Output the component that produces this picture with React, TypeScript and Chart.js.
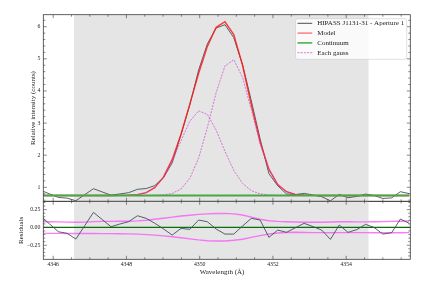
import React, { useEffect, useRef } from 'react';
import { Chart, registerables } from 'chart.js';

Chart.register(...registerables);

// ---------------- data ----------------
const WAVELENGTH = [
  4345.66, 4345.90, 4346.14, 4346.38, 4346.62, 4346.86, 4347.10, 4347.34, 4347.58, 4347.82,
  4348.06, 4348.30, 4348.54, 4348.77, 4349.01, 4349.25, 4349.49, 4349.73, 4349.97, 4350.21,
  4350.45, 4350.69, 4350.93, 4351.17, 4351.41, 4351.65, 4351.89, 4352.13, 4352.37, 4352.61,
  4352.85, 4353.09, 4353.33, 4353.57, 4353.81, 4354.05, 4354.29, 4354.53, 4354.76, 4355.00,
  4355.24, 4355.48, 4355.72,
];
const FLUX = [
  0.905, 0.795, 0.685, 0.662, 0.582, 0.770, 0.957, 0.855, 0.755, 0.793,
  0.832, 0.937, 0.962, 1.051, 1.295, 1.762, 2.641, 3.564, 4.649, 5.467,
  5.960, 6.062, 5.660, 4.819, 3.690, 2.507, 1.426, 1.047, 0.793, 0.774,
  0.811, 0.760, 0.708, 0.578, 0.779, 0.676, 0.715, 0.789, 0.745, 0.652,
  0.671, 0.863, 0.803,
];
const MODEL = [
  0.745, 0.745, 0.745, 0.745, 0.745, 0.745, 0.745, 0.745, 0.745, 0.747,
  0.752, 0.773, 0.834, 0.991, 1.315, 1.869, 2.654, 3.591, 4.545, 5.387,
  5.982, 6.155, 5.753, 4.799, 3.562, 2.403, 1.565, 1.084, 0.862, 0.779,
  0.753, 0.747, 0.745, 0.745, 0.745, 0.745, 0.745, 0.745, 0.745, 0.745,
  0.745, 0.745, 0.745,
];
const CONTINUUM = [
  0.745, 0.745, 0.745, 0.745, 0.745, 0.745, 0.745, 0.745, 0.745, 0.745,
  0.745, 0.745, 0.745, 0.745, 0.745, 0.745, 0.745, 0.745, 0.745, 0.745,
  0.745, 0.745, 0.745, 0.745, 0.745, 0.745, 0.745, 0.745, 0.745, 0.745,
  0.745, 0.745, 0.745, 0.745, 0.745, 0.745, 0.745, 0.745, 0.745, 0.745,
  0.745, 0.745, 0.745,
];
const GAUSS_1 = [
  0.745, 0.745, 0.745, 0.745, 0.745, 0.745, 0.745, 0.745, 0.745, 0.747,
  0.752, 0.773, 0.834, 0.987, 1.298, 1.805, 2.452, 3.059, 3.381, 3.269,
  2.776, 2.120, 1.527, 1.119, 0.895, 0.796, 0.759, 0.748, 0.745, 0.745,
  0.745, 0.745, 0.745, 0.745, 0.745, 0.745, 0.745, 0.745, 0.745, 0.745,
  0.745, 0.745, 0.745,
];
const GAUSS_2 = [
  0.745, 0.745, 0.745, 0.745, 0.745, 0.745, 0.745, 0.745, 0.745, 0.745,
  0.745, 0.745, 0.746, 0.749, 0.762, 0.809, 0.947, 1.277, 1.909, 2.863,
  3.951, 4.780, 4.971, 4.425, 3.412, 2.352, 1.551, 1.081, 0.862, 0.779,
  0.753, 0.747, 0.745, 0.745, 0.745, 0.745, 0.745, 0.745, 0.745, 0.745,
  0.745, 0.745, 0.745,
];
const RESIDUALS = [
  0.160, 0.050, -0.060, -0.083, -0.163, 0.025, 0.212, 0.110, 0.010, 0.048,
  0.080, 0.164, 0.128, 0.060, -0.020, -0.107, -0.013, -0.027, 0.104, 0.080,
  -0.022, -0.093, -0.093, 0.020, 0.128, 0.104, -0.139, -0.037, -0.069, -0.005,
  0.058, 0.013, -0.037, -0.167, 0.034, -0.069, -0.030, 0.044, 0.000, -0.093,
  -0.074, 0.118, 0.058,
];
const RES_UPPER = [
  0.080, 0.080, 0.078, 0.075, 0.072, 0.075, 0.082, 0.085, 0.085, 0.086,
  0.088, 0.092, 0.102, 0.115, 0.130, 0.145, 0.160, 0.172, 0.183, 0.190,
  0.196, 0.197, 0.190, 0.175, 0.145, 0.115, 0.095, 0.085, 0.080, 0.076,
  0.073, 0.072, 0.073, 0.076, 0.080, 0.080, 0.078, 0.078, 0.080, 0.082,
  0.085, 0.088, 0.090,
];
const RES_LOWER = [
  -0.083, -0.083, -0.083, -0.084, -0.085, -0.085, -0.085, -0.086, -0.087, -0.088,
  -0.090, -0.094, -0.100, -0.108, -0.118, -0.130, -0.145, -0.160, -0.175, -0.186,
  -0.190, -0.190, -0.180, -0.165, -0.140, -0.115, -0.092, -0.078, -0.070, -0.068,
  -0.070, -0.072, -0.073, -0.074, -0.073, -0.072, -0.072, -0.073, -0.074, -0.075,
  -0.075, -0.074, -0.073,
];
const ZERO_LINE_X = [4345.5, 4356.0];
const ZERO_LINE_Y = [0, 0];
const FIT_RANGE = [4346.57, 4354.61];

const X_RANGE = [4345.73, 4355.75];
const X_TICKS = [4346, 4348, 4350, 4352, 4354];
const X_TICK_LABELS = ['4346', '4348', '4350', '4352', '4354'];
const Y_RANGE = [0.564, 6.374];
const Y_TICKS = [1, 2, 3, 4, 5, 6];
const Y_TICK_LABELS = ['1', '2', '3', '4', '5', '6'];
const RES_RANGE = [-0.447, 0.367];
const RES_TICKS = [-0.25, 0, 0.25];
const RES_TICK_LABELS = ['\u22120.25', '0.00', '0.25'];

const LEGEND_LABELS = ['HIPASS J1131-31 - Aperture 1', 'Model', 'Continuum', 'Each gauss'];
const X_TITLE = 'Wavelength (\u00c5)';
const Y_TITLE = 'Relative intensity (counts)';
const RES_TITLE = 'Residuals';

// ---------------- styles ----------------
const FONT = '"Liberation Serif", "DejaVu Serif", serif';
const C_DATA = '#42515e';
const C_MODEL = 'rgba(255,25,25,0.85)';
const C_CONT = '#46a846';
const C_GAUSS = 'rgba(205,70,205,0.9)';
const C_BAND = 'rgba(250,80,250,0.75)';
const C_ZERO = '#0a6e0a';
const AXIS = '#3a3a3a';

const LEFT = 43.3;
const RIGHT_PAD = 432 - 410.3;
const TOP1 = 14.7;
const MID = 201.3;
const BOT2 = 259.3;

const pts = (ys: number[]) => WAVELENGTH.map((x, i) => ({ x, y: ys[i] }));

function stepTicks(min: number, max: number, step: number) {
  const out: number[] = [];
  const start = Math.ceil(min / step - 1e-9);
  for (let k = start; k * step <= max + 1e-9; k++) out.push(+(k * step).toFixed(6));
  return out;
}

const decor = {
  id: 'decor',
  beforeDatasetsDraw(chart: any) {
    const { ctx, chartArea: a, scales } = chart;
    const x0 = scales.x.getPixelForValue(FIT_RANGE[0]);
    const x1 = scales.x.getPixelForValue(FIT_RANGE[1]);
    ctx.save();
    ctx.fillStyle = '#e5e5e5';
    ctx.fillRect(x0, a.top, x1 - x0, a.bottom - a.top);
    ctx.restore();
  },
  afterDraw(chart: any, _args: any, opts: any) {
    const { ctx, chartArea: a, scales } = chart;
    const xs = scales.x;
    const ys = scales.y;
    ctx.save();
    ctx.strokeStyle = AXIS;
    ctx.lineWidth = 0.6;
    const xMinor = stepTicks(X_RANGE[0], X_RANGE[1], 0.5);
    const line = (x1: number, y1: number, x2: number, y2: number) => {
      ctx.beginPath();
      ctx.moveTo(x1, y1);
      ctx.lineTo(x2, y2);
      ctx.stroke();
    };
    xMinor.forEach((v) => {
      const major = X_TICKS.includes(v);
      const l = major ? 3.5 : 2;
      const p = xs.getPixelForValue(v);
      line(p, a.bottom, p, a.bottom - l);
      line(p, a.top, p, a.top + l);
    });
    const yMinor = stepTicks(opts.yRange[0], opts.yRange[1], opts.yMinorStep);
    yMinor.forEach((v: number) => {
      const major = opts.yMajor.some((m: number) => Math.abs(m - v) < 1e-6);
      const l = major ? 3.5 : 2;
      const p = ys.getPixelForValue(v);
      line(a.left, p, a.left + l, p);
      line(a.right, p, a.right - l, p);
    });
    ctx.lineWidth = 0.8;
    ctx.strokeRect(a.left, a.top, a.right - a.left, a.bottom - a.top);

    // titles
    ctx.fillStyle = '#222';
    ctx.font = `7px ${FONT}`;
    ctx.textAlign = 'center';
    ctx.textBaseline = 'middle';
    ctx.save();
    ctx.translate(opts.yTitleX, (a.top + a.bottom) / 2);
    ctx.rotate(-Math.PI / 2);
    ctx.fillText(opts.yTitle, 0, 0);
    ctx.restore();
    if (opts.xTitle) {
      ctx.fillText(opts.xTitle, 222, 272);
    }

    if (opts.legend) {
      ctx.font = `7px ${FONT}`;
      const maxW = Math.max(...LEGEND_LABELS.map((t) => ctx.measureText(t).width));
      const boxRight = a.right - 3.6;
      const boxTop = a.top + 4;
      const textLeft = boxRight - 2.5 - maxW;
      const boxLeft = textLeft - 21.7;
      ctx.fillStyle = 'rgba(255,255,255,0.8)';
      ctx.strokeStyle = 'rgba(200,200,200,0.9)';
      ctx.lineWidth = 0.6;
      ctx.beginPath();
      ctx.roundRect(boxLeft, boxTop, boxRight - boxLeft, 40.6, 2);
      ctx.fill();
      ctx.stroke();
      const styles = [
        { c: C_DATA, w: 1, d: [] as number[] },
        { c: 'rgba(255,25,25,0.55)', w: 1.5, d: [] as number[] },
        { c: C_CONT, w: 1.5, d: [] as number[] },
        { c: C_GAUSS, w: 0.8, d: [2, 1.2] },
      ];
      LEGEND_LABELS.forEach((t, k) => {
        const yy = boxTop + 4.6 + k * 9.8;
        const s = styles[k];
        ctx.strokeStyle = s.c;
        ctx.lineWidth = s.w;
        ctx.setLineDash(s.d);
        line(textLeft - 19.7, yy, textLeft - 5, yy);
        ctx.setLineDash([]);
        ctx.fillStyle = '#222';
        ctx.textAlign = 'left';
        ctx.fillText(t, textLeft, yy + 0.3);
      });
    }
    ctx.restore();
  },
};

const lineDs = (label: string, data: any[], color: string, width: number, dash: number[] = [], order = 0) => ({
  label,
  data,
  order,
  borderColor: color,
  borderWidth: width,
  borderDash: dash,
  pointRadius: 0,
  tension: 0,
  fill: false,
  clip: 0,
});

const tickFont = { family: FONT, size: 5.8 };

function topConfig(): any {
  return {
    type: 'line',
    data: {
      datasets: [
        lineDs(LEGEND_LABELS[0], pts(FLUX), C_DATA, 0.9, [], 5),
        lineDs('Model', pts(MODEL), C_MODEL, 1.4, [], 4),
        lineDs('Each gauss', pts(GAUSS_1), C_GAUSS, 0.8, [2, 1.2], 3),
        lineDs('Each gauss 2', pts(GAUSS_2), C_GAUSS, 0.8, [2, 1.2], 2),
        lineDs('Continuum', pts(CONTINUUM), C_CONT, 2, [], 1),
      ],
    },
    options: {
      responsive: false,
      animation: false,
      events: [],
      layout: { padding: { left: 0, right: RIGHT_PAD, top: TOP1, bottom: 288 - MID } },
      scales: {
        x: {
          type: 'linear',
          min: X_RANGE[0],
          max: X_RANGE[1],
          afterFit: (s: any) => { s.height = 0; },
          ticks: { display: false },
          grid: { display: false },
          border: { display: false },
        },
        y: {
          type: 'linear',
          min: Y_RANGE[0],
          max: Y_RANGE[1],
          afterFit: (s: any) => { s.width = LEFT; },
          afterBuildTicks: (s: any) => { s.ticks = Y_TICKS.map((v) => ({ value: v })); },
          ticks: {
            callback: (_v: any, i: number) => Y_TICK_LABELS[i],
            font: tickFont,
            color: '#222',
            padding: 3,
            autoSkip: false,
          },
          grid: { display: false, drawTicks: false },
          border: { display: false },
        },
      },
      plugins: {
        legend: { display: false },
        tooltip: { enabled: false },
        decor: {
          yRange: Y_RANGE,
          yMajor: Y_TICKS,
          yMinorStep: 0.2,
          yTitle: Y_TITLE,
          yTitleX: 32.7,
          legend: true,
        },
      },
    },
    plugins: [decor],
  };
}

function bottomConfig(): any {
  return {
    type: 'line',
    data: {
      datasets: [
        lineDs('Upper', pts(RES_UPPER), C_BAND, 1.4, [], 4),
        lineDs('Lower', pts(RES_LOWER), C_BAND, 1.4, [], 3),
        lineDs('Zero', ZERO_LINE_X.map((x, i) => ({ x, y: ZERO_LINE_Y[i] })), C_ZERO, 1.3, [], 2),
        lineDs('Residuals', pts(RESIDUALS), C_DATA, 0.9, [], 1),
      ],
    },
    options: {
      responsive: false,
      animation: false,
      events: [],
      layout: { padding: { left: 0, right: RIGHT_PAD, top: MID, bottom: 0 } },
      scales: {
        x: {
          type: 'linear',
          min: X_RANGE[0],
          max: X_RANGE[1],
          afterFit: (s: any) => { s.height = 288 - BOT2; },
          afterBuildTicks: (s: any) => { s.ticks = X_TICKS.map((v) => ({ value: v })); },
          ticks: {
            callback: (_v: any, i: number) => X_TICK_LABELS[i],
            font: tickFont,
            color: '#222',
            padding: 1.5,
            maxRotation: 0,
            autoSkip: false,
          },
          grid: { display: false, drawTicks: false },
          border: { display: false },
        },
        y: {
          type: 'linear',
          min: RES_RANGE[0],
          max: RES_RANGE[1],
          afterFit: (s: any) => { s.width = LEFT; },
          afterBuildTicks: (s: any) => { s.ticks = RES_TICKS.map((v) => ({ value: v })); },
          ticks: {
            callback: (_v: any, i: number) => RES_TICK_LABELS[i],
            font: tickFont,
            color: '#222',
            padding: 3,
            autoSkip: false,
          },
          grid: { display: false, drawTicks: false },
          border: { display: false },
        },
      },
      plugins: {
        legend: { display: false },
        tooltip: { enabled: false },
        decor: {
          yRange: RES_RANGE,
          yMajor: RES_TICKS,
          yMinorStep: 0.05,
          yTitle: RES_TITLE,
          yTitleX: 20.7,
          xTitle: X_TITLE,
          legend: false,
        },
      },
    },
    plugins: [decor],
  };
}

export default function App() {
  const topRef = useRef<HTMLCanvasElement>(null);
  const botRef = useRef<HTMLCanvasElement>(null);
  useEffect(() => {
    const c1 = new Chart(topRef.current as HTMLCanvasElement, topConfig());
    const c2 = new Chart(botRef.current as HTMLCanvasElement, bottomConfig());
    return () => {
      c1.destroy();
      c2.destroy();
    };
  }, []);
  const cs: React.CSSProperties = { position: 'absolute', left: 0, top: 0, width: 432, height: 288 };
  return (
    <div style={{ position: 'fixed', left: 0, top: 0, width: 432, height: 288, background: '#fff' }}>
      <canvas ref={topRef} width={432} height={288} style={cs} />
      <canvas ref={botRef} width={432} height={288} style={cs} />
    </div>
  );
}
